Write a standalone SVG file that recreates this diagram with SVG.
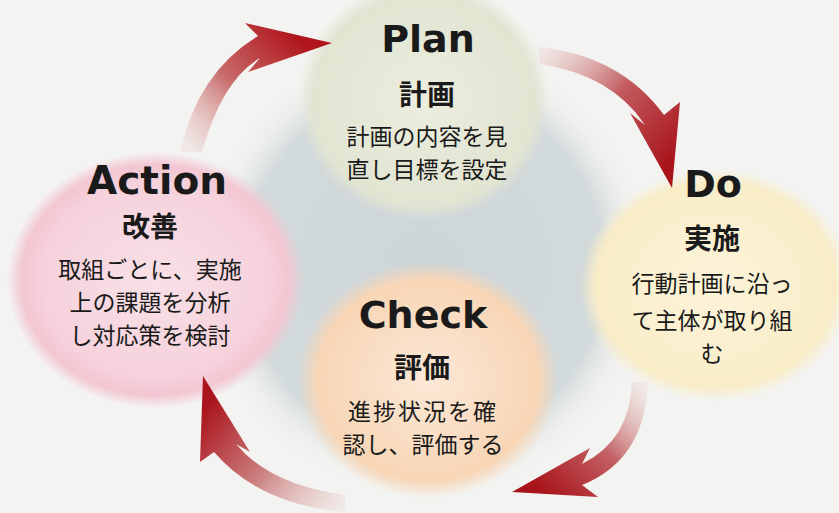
<svg xmlns="http://www.w3.org/2000/svg" width="839" height="513" viewBox="0 0 839 513">
<style>
.en{font-family:"DejaVu Sans","Liberation Sans",sans-serif;font-weight:bold;fill:#1a1a1a;text-anchor:middle}
.jh{font-family:"Noto Sans CJK JP","Noto Sans",sans-serif;font-weight:bold;fill:#1a1a1a;text-anchor:middle;font-size:28px}
.jt{font-family:"Noto Sans CJK JP","Noto Sans",sans-serif;fill:#1a1a1a;text-anchor:middle;font-size:23px}
</style>
<defs>
<radialGradient id="bg" cx="0.5" cy="0.5" r="0.5">
<stop offset="0" stop-color="#cdd5d8"/>
<stop offset="0.8" stop-color="#d3dadb"/>
<stop offset="1" stop-color="#eef0ee" stop-opacity="0"/>
</radialGradient>
<radialGradient id="gPlan" cx="0.5" cy="0.5" r="0.5">
<stop offset="0" stop-color="#ecedde"/>
<stop offset="0.88" stop-color="#e2e5d2"/>
<stop offset="1" stop-color="#e2e5d2" stop-opacity="0"/>
</radialGradient>
<radialGradient id="gAct" cx="0.5" cy="0.5" r="0.5">
<stop offset="0" stop-color="#f8e0e6"/>
<stop offset="0.75" stop-color="#f6d2dc"/>
<stop offset="0.9" stop-color="#f3c6d2"/>
<stop offset="1" stop-color="#f3c6d2" stop-opacity="0"/>
</radialGradient>
<radialGradient id="gDo" cx="0.5" cy="0.5" r="0.5">
<stop offset="0" stop-color="#fcf4da"/>
<stop offset="0.88" stop-color="#f9edc8"/>
<stop offset="1" stop-color="#f9edc8" stop-opacity="0"/>
</radialGradient>
<radialGradient id="gChk" cx="0.5" cy="0.5" r="0.5">
<stop offset="0" stop-color="#fbe8d6"/>
<stop offset="0.85" stop-color="#f8d6b6"/>
<stop offset="1" stop-color="#f8d6b6" stop-opacity="0"/>
</radialGradient>
<linearGradient id="a1" gradientUnits="userSpaceOnUse" x1="190" y1="150" x2="300" y2="40">
<stop offset="0" stop-color="#ecd8d4" stop-opacity="0.4"/>
<stop offset="0.5" stop-color="#c86a6a"/>
<stop offset="1" stop-color="#b0161c"/>
</linearGradient>
<linearGradient id="a2" gradientUnits="userSpaceOnUse" x1="540" y1="55" x2="665" y2="170">
<stop offset="0" stop-color="#ecd8d4" stop-opacity="0.5"/>
<stop offset="0.5" stop-color="#c25a5e"/>
<stop offset="1" stop-color="#a8141a"/>
</linearGradient>
<linearGradient id="a3" gradientUnits="userSpaceOnUse" x1="640" y1="385" x2="540" y2="490">
<stop offset="0" stop-color="#ecd8d4" stop-opacity="0.4"/>
<stop offset="0.5" stop-color="#c26064"/>
<stop offset="1" stop-color="#a8141a"/>
</linearGradient>
<linearGradient id="a4" gradientUnits="userSpaceOnUse" x1="345" y1="505" x2="210" y2="400">
<stop offset="0" stop-color="#ecdcd8" stop-opacity="0.4"/>
<stop offset="0.5" stop-color="#cc8080"/>
<stop offset="1" stop-color="#aa141c"/>
</linearGradient>
</defs>
<rect width="839" height="513" fill="#f3f3f1"/>
<circle cx="425" cy="268" r="225" fill="url(#bg)"/>
<g id="plan">
<ellipse cx="424" cy="100" rx="126" ry="120" fill="url(#gPlan)"/>
<text class="en" x="428" y="52" font-size="38">Plan</text>
<text class="jh" x="427" y="105">計画</text>
<text class="jt" x="427" y="145">計画の内容を見</text>
<text class="jt" x="427" y="178">直し目標を設定</text>
</g>
<g id="action">
<ellipse cx="155" cy="280" rx="148" ry="128" fill="url(#gAct)"/>
<text class="en" x="157" y="194" font-size="39">Action</text>
<text class="jh" x="150" y="237">改善</text>
<text class="jt" x="150" y="278">取組ごとに、実施</text>
<text class="jt" x="150" y="311">上の課題を分析</text>
<text class="jt" x="150" y="344">し対応策を検討</text>
</g>
<g id="do">
<ellipse cx="716" cy="285" rx="136" ry="116" fill="url(#gDo)"/>
<text class="en" x="713" y="197" font-size="38">Do</text>
<text class="jh" x="712" y="249">実施</text>
<text class="jt" x="712" y="292">行動計画に沿っ</text>
<text class="jt" x="712" y="329">て主体が取り組</text>
<text class="jt" x="712" y="362">む</text>
</g>
<g id="check">
<ellipse cx="428" cy="380" rx="130" ry="118" fill="url(#gChk)"/>
<text class="en" x="423" y="328" font-size="38">Check</text>
<text class="jh" x="422" y="378">評価</text>
<text class="jt" x="423" y="420" letter-spacing="2">進捗状況を確</text>
<text class="jt" x="423" y="453">認し、評価する</text>
</g>
<g id="connectors">
<path d="M180,152 Q198,72 258,36 L245,23 L332,43 L248,72 L260,58 Q222,80 202,152 Z" fill="url(#a1)"/>
<path d="M538,47 Q620,55 664,115 L680,102 L672,188 L630,113 L645,125 Q612,75 540,64 Z" fill="url(#a2)"/>
<path d="M632,382 Q630,440 582,464 L590,448 L512,492 L598,497 L582,485 Q645,460 648,382 Z" fill="url(#a3)"/>
<path d="M345,512 Q260,505 214,452 L200,462 L203,376 L250,452 L236,444 Q270,485 345,495 Z" fill="url(#a4)"/>
</g>
</svg>
